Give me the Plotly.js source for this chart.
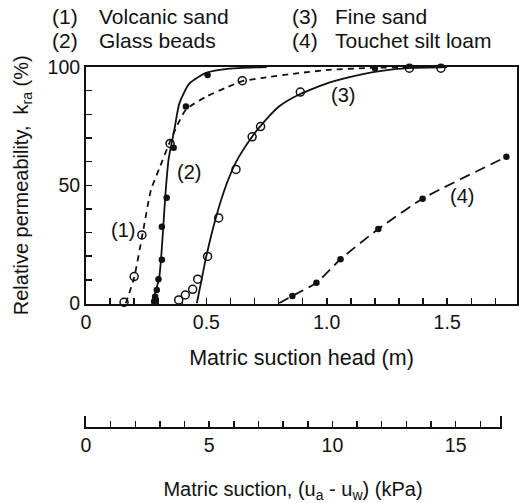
<!DOCTYPE html>
<html>
<head>
<meta charset="utf-8">
<script src="https://cdn.plot.ly/plotly-3.0.1.min.js"></script>
<style>html,body{margin:0;padding:0;background:#fff}#chart{width:528px;height:503px}</style>
</head>
<body>
<div id="chart"></div>
<script>
// Fitted curves (matric suction head in m, relative permeability in %)
const curve1X = [0.165, 0.2, 0.236, 0.27, 0.304, 0.349, 0.373, 0.415, 0.5, 0.582, 0.649, 0.735, 0.874, 1.01, 1.18, 1.35, 1.5];
const curve1Y = [0, 11, 30, 48, 57, 68.5, 74, 82, 87.5, 91.3, 94, 95.4, 97.3, 98.8, 99.6, 100, 100];
const curve2X = [0.274, 0.304, 0.318, 0.329, 0.343, 0.367, 0.3875, 0.429, 0.499, 0.596, 0.75];
const curve2Y = [0, 11, 28, 45, 61, 73.5, 84.5, 93, 97.5, 99.3, 100];
const curve3X = [0.46, 0.48, 0.499, 0.54, 0.582, 0.624, 0.686, 0.735, 0.804, 0.8875, 1.0125, 1.15, 1.22, 1.35, 1.5];
const curve3Y = [0, 10, 19.7, 36.5, 50, 60, 70, 76.3, 83.5, 88.5, 93.5, 97, 98.3, 99.6, 100];
const curve4X = [0.8, 0.857, 0.957, 1.057, 1.214, 1.398, 1.746];
const curve4Y = [0, 3.2, 8.8, 18.7, 31.5, 44.3, 62];

// Measured points
const pts1X = [0.158, 0.2, 0.232, 0.349, 0.649];
const pts1Y = [0.5, 11.4, 29, 67.7, 94.2];
const pts2X = [0.283, 0.287, 0.294, 0.301, 0.315, 0.315, 0.335, 0.364, 0.415, 0.505, 1.2];
const pts2Y = [0.8, 2.9, 5.7, 10.3, 18.5, 32.4, 44.7, 65.9, 83.3, 96.6, 99.5];
const pts3X = [0.385, 0.4125, 0.443, 0.464, 0.505, 0.551, 0.623, 0.69, 0.725, 0.89, 1.343, 1.474];
const pts3Y = [1.5, 3.6, 6, 10.3, 19.9, 36.2, 56.7, 70.5, 74.8, 89.4, 99.5, 99.5];
const pts4X = [0.857, 0.957, 1.057, 1.214, 1.398, 1.746];
const pts4Y = [3.2, 8.8, 18.7, 31.5, 44.3, 62];

// Axis ticks and labels
const headTicks = [0, 0.5, 1.0, 1.5];
const headTickText = ['0', '0.5', '1.0', '1.5'];
const kraTicks = [0, 50, 100];
const kPaTicks = [0, 5, 10, 15];
const seriesLabels = ['(1)', '(2)', '(3)', '(4)'];
const seriesNames = ['Volcanic sand', 'Glass beads', 'Fine sand', 'Touchet silt loam'];
const labelX = [0.155, 0.429, 1.067, 1.562];
const labelY = [31, 55.5, 88, 45.5];

const FONT = 'Liberation Sans, Arial, Helvetica, sans-serif';
const black = '#111';

function line(x, y, dash) {
  return {x: x, y: y, mode: 'lines', type: 'scatter', line: {color: black, width: 1.8, dash: dash, shape: 'spline', smoothing: 0.6}, hoverinfo: 'skip', cliponaxis: false};
}
function pts(x, y, open) {
  return {x: x, y: y, mode: 'markers', type: 'scatter', cliponaxis: false,
    marker: open ? {symbol: 'circle-open', size: 8, color: black, line: {width: 1.5, color: black}}
                 : {symbol: 'circle', size: 6.5, color: black}};
}

const traces = [
  line(curve1X, curve1Y, '6px,5px'),
  line(curve2X, curve2Y, 'solid'),
  line(curve3X, curve3Y, 'solid'),
  line(curve4X, curve4Y, '11px,6px'),
  pts(pts1X, pts1Y, true),
  pts(pts2X, pts2Y, false),
  pts(pts3X, pts3Y, true),
  pts(pts4X, pts4Y, false),
  {x: [], y: [], xaxis: 'x2', yaxis: 'y2', type: 'scatter', mode: 'markers'}
];

const W = 528, H = 503, mL = 86, mR = 11, mT = 67, mB = 76;
const pw = W - mL - mR, ph = H - mT - mB;
const px = v => (v - mL) / pw;
const py = v => (H - mB - v) / ph;

const annotations = [];
const legendRows = [[0, 1], [2, 3]];
const colX = [[50, 97], [290, 333]];
const rowY = [16, 40];
for (let c = 0; c < 2; c++) {
  for (let r = 0; r < 2; r++) {
    const i = legendRows[c][r];
    annotations.push({xref: 'paper', yref: 'paper', x: px(colX[c][0]), y: py(rowY[r]), xanchor: 'left', yanchor: 'middle', text: seriesLabels[i], showarrow: false, font: {family: FONT, size: 21, color: black}});
    annotations.push({xref: 'paper', yref: 'paper', x: px(colX[c][1]), y: py(rowY[r]), xanchor: 'left', yanchor: 'middle', text: seriesNames[i], showarrow: false, font: {family: FONT, size: 21, color: black}});
  }
}
for (let i = 0; i < 4; i++) {
  annotations.push({xref: 'x', yref: 'y', x: labelX[i], y: labelY[i], text: seriesLabels[i], showarrow: false, font: {family: FONT, size: 20, color: black}});
}

const layout = {
  width: W, height: H,
  margin: {l: mL, r: mR, t: mT, b: mB, pad: 0},
  paper_bgcolor: '#fff', plot_bgcolor: '#fff',
  showlegend: false,
  font: {family: FONT, size: 19, color: black},
  xaxis: {
    domain: [0, 1], anchor: 'y', range: [0, 1.79],
    tickmode: 'array', tickvals: headTicks, ticktext: headTickText,
    ticks: 'inside', ticklen: 6, tickwidth: 1.5, tickcolor: black,
    minor: {dtick: 0.1, tick0: 0, ticks: 'inside', ticklen: 6, tickwidth: 1.5, tickcolor: black, showgrid: false},
    showline: true, linewidth: 2, linecolor: black, mirror: true,
    showgrid: false, zeroline: false,
    tickfont: {family: FONT, size: 19.5, color: black},
    title: {text: 'Matric suction head (m)', font: {family: FONT, size: 21.5, color: black}, standoff: 18}
  },
  yaxis: {
    domain: [py(303.5), 1], anchor: 'x', range: [0, 100],
    tickmode: 'array', tickvals: kraTicks,
    ticks: 'inside', ticklen: 6, tickwidth: 1.5, tickcolor: black,
    minor: {dtick: 10, tick0: 0, ticks: 'inside', ticklen: 6, tickwidth: 1.5, tickcolor: black, showgrid: false},
    showline: true, linewidth: 2, linecolor: black, mirror: true,
    showgrid: false, zeroline: false,
    tickfont: {family: FONT, size: 19.5, color: black},
    title: {text: 'Relative permeability,  k<sub>ra</sub> (%)', font: {family: FONT, size: 20, color: black}, standoff: 14}
  },
  xaxis2: {
    domain: [0, px(500)], anchor: 'y2', range: [0, 16.8],
    tickmode: 'array', tickvals: kPaTicks,
    ticks: 'inside', ticklen: 6, tickwidth: 1.5, tickcolor: black,
    minor: {dtick: 1, tick0: 0, ticks: 'inside', ticklen: 6, tickwidth: 1.5, tickcolor: black, showgrid: false},
    showline: true, linewidth: 2, linecolor: black,
    showgrid: false, zeroline: false,
    tickfont: {family: FONT, size: 19.5, color: black},
    title: {text: 'Matric suction, (u<sub>a</sub> - u<sub>w</sub>) (kPa)', font: {family: FONT, size: 20, color: black}, standoff: 28}
  },
  yaxis2: {
    domain: [0, 0.03], anchor: 'x2', range: [0, 1],
    showline: true, linewidth: 2, linecolor: black, mirror: true,
    ticks: '', showticklabels: false, showgrid: false, zeroline: false
  },
  annotations: annotations
};

Plotly.newPlot('chart', traces, layout, {displayModeBar: false, staticPlot: true});
</script>
</body>
</html>
